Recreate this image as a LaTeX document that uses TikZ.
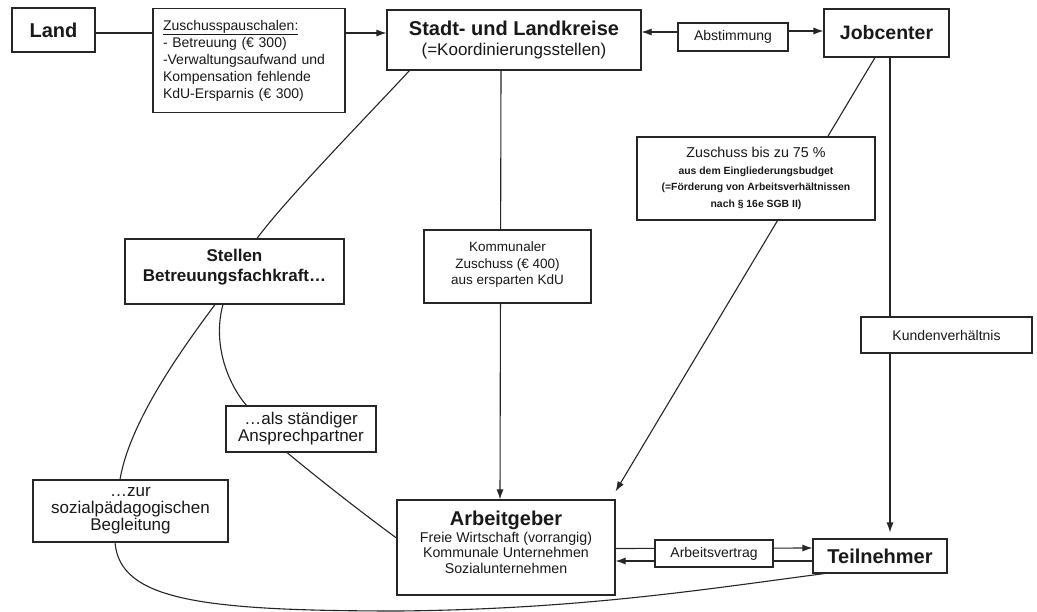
\documentclass[tikz,border=0pt]{standalone}
\usepackage{fontspec}
\setmainfont{Liberation Sans}
\usetikzlibrary{arrows.meta,backgrounds,calc}
\newcommand\myfs[2]{\fontsize{#1}{#2}\selectfont}
\begin{document}
\begin{tikzpicture}[x=1pt,y=-1pt,
  box/.style={draw=black!85, line width=1.1pt, fill=white, rectangle, inner sep=0pt, align=center, text=black!90},
  conn/.style={draw=black!85, line width=1.1pt},
  arr/.style={conn, -{Latex[length=10pt,width=7pt]}}]
\useasboundingbox (0,0) rectangle (1037,612);
% nodes
\node[box, minimum width=83pt, minimum height=44pt, font=\myfs{20}{22}\bfseries] (land) at (53.5,30) {Land};
\node[box, minimum width=192pt, minimum height=104pt, align=left, text width=172pt, font=\myfs{14}{17}] (pausch) at (249,60.5)
  {\underline{Zuschusspauschalen:}\\- Betreuung (€ 300)\\-Verwaltungsaufwand und\\Kompensation fehlende\\KdU-Ersparnis (€ 300)};
\node[box, minimum width=254pt, minimum height=60pt, font=\myfs{17}{20}] (stadt) at (514,40)
  {{\myfs{20}{20}\bfseries Stadt- und Landkreise}\\(=Koordinierungsstellen)};
\node[box, minimum width=110pt, minimum height=28pt, font=\myfs{14}{16}] (abst) at (733,37) {Abstimmung};
\node[box, minimum width=125pt, minimum height=48pt, font=\myfs{19.5}{20}\bfseries] (job) at (886.5,33) {Jobcenter};
\node[box, minimum width=238pt, minimum height=83pt, font=\myfs{10.4}{16.5}\bfseries] (zus) at (756,178.5)
  {{\myfs{14.3}{17}\mdseries Zuschuss bis zu 75 \%}\\aus dem Eingliederungsbudget\\(=Förderung von Arbeitsverhältnissen\\nach § 16e SGB II)};
\node[box, minimum width=219pt, minimum height=65pt, font=\myfs{17}{20}\bfseries] (stellen) at (234.5,271.5)
  {Stellen\\Betreuungsfachkraft…\\[-8pt]};
\node[box, minimum width=167pt, minimum height=73pt, font=\myfs{13.5}{16.5}] (komm) at (507.5,266.5)
  {Kommunaler\\Zuschuss (€ 400)\\aus ersparten KdU\\[-10pt]};
\node[box, minimum width=171pt, minimum height=36pt, font=\myfs{14}{16}] (kunden) at (946.5,335) {Kundenverhältnis};
\node[box, minimum width=150pt, minimum height=46pt, font=\myfs{17}{17}] (als) at (301,429)
  {…als ständiger\\Ansprechpartner};
\node[box, minimum width=195pt, minimum height=62pt, font=\myfs{17}{17}] (zur) at (130.5,511)
  {…zur\\sozialpädagogischen\\Begleitung};
\node[box, minimum width=218pt, minimum height=95pt, font=\myfs{14.2}{15.5}] (arb) at (506,547.5)
  {{\myfs{20}{19}\bfseries Arbeitgeber}\\[1pt]Freie Wirtschaft (vorrangig)\\Kommunale Unternehmen\\Sozialunternehmen\\[-5pt]};
\node[box, minimum width=118pt, minimum height=27pt, font=\myfs{14}{16}] (vertrag) at (714,553.5) {Arbeitsvertrag};
\node[box, minimum width=134pt, minimum height=34pt, font=\myfs{20}{20}\bfseries] (teil) at (880,556) {Teilnehmer};
% connectors
\begin{pgfonlayer}{background}
\fill[white] (0,0) rectangle (1037,612);
\draw[arr] ($(land.east)+(0,3)$) -- ($(stadt.west)+(0,-7)$);
\draw[arr] ($(abst.west)+(0,-5)$) -- ($(stadt.east)+(0,-8)$);
\draw[arr] ($(abst.east)+(0,-6)$) -- ($(job.west)+(0,-2)$);
\draw[arr] ($(job.south)+(-11.5,0)$) -- ($(arb.north east)+(0,-8)$);
\draw[arr] ($(job.south)+(3.5,0)$) -- ($(teil.north)+(10,-6)$);
\draw[arr] ($(stadt.south)+(-13,0)$) -- ($(arb.north)+(-6,0)$);
\draw[conn] ($(stadt.south west)+(23,0)$) .. controls (375,108) and (285,200) .. ($(stellen.north)+(22.5,0)$);
\draw[conn] ($(stellen.south)+(-19.5,0)$) .. controls (185,345) and (130,420) .. ($(zur.north)+(-10.5,0)$);
\draw[conn] ($(stellen.south)+(-11.5,0)$) .. controls (213,340) and (225,380) .. ($(als.north west)+(21,0)$);
\draw[conn] ($(als.south)+(-14,0)$) .. controls (320,480) and (365,515) .. ($(arb.west)+(0,-9.5)$);
\coordinate (low) at (400,611);
\draw[conn] ($(zur.south)+(-15.5,0)$) .. controls (120,600) and (200,611) .. (low)
  .. controls (580,609) and (700,590) .. ($(teil.south west)+(12,0)$);
\draw[arr] ($(arb.east)+(0,1)$) -- ($(teil.west)+(0,-8)$);
\draw[arr] ($(teil.west)+(0,5)$) -- ($(arb.east)+(0,13.5)$);
\end{pgfonlayer}
\end{tikzpicture}
\end{document}
